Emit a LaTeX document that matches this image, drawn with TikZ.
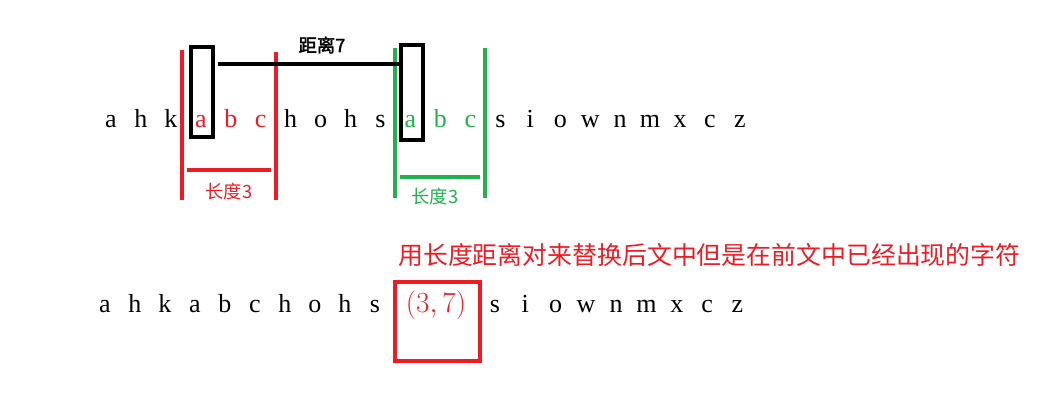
\documentclass[tikz,border=0pt]{standalone}
\usepackage{fontspec}
\newfontfamily\cjk[AutoFakeBold=2]{Noto Sans CJK SC}
\newfontfamily\lat{Liberation Serif}
\definecolor{myred}{RGB}{237,28,36}
\definecolor{mygreen}{RGB}{34,177,76}
\tikzset{
  letter/.style={anchor=base, inner sep=0pt, font=\lat\fontsize{18.5}{22}\selectfont},
  note/.style={inner sep=0pt, font=\cjk\fontsize{13}{15}\selectfont},
  bar/.style={line width=2.3pt}
}
\begin{document}
\begin{tikzpicture}[x=0.025cm, y=-0.025cm]
  \useasboundingbox (0,0) rectangle (1061,410);

  % top string
  \foreach \l/\c [count=\i from 0] in {a/black,h/black,k/black,a/myred,b/myred,c/myred,h/black,o/black,h/black,s/black,a/mygreen,b/mygreen,c/mygreen,s/black,i/black,o/black,w/black,n/black,m/black,x/black,c/black,z/black} {
    \node[letter, text=\c] (t\i) at ({111+29.95*\i},127) {\l};
  }

  % first match (red)
  \draw[bar, myred] (182,50) -- (182,200);
  \draw[bar, myred] (276,52) -- (276,200);
  \draw[bar, myred] (187,170) -- (271,170);
  \node[note, text=myred] (len1) at (229,192) {长度3};

  % second match (green)
  \draw[bar, mygreen] (395,48) -- (395,198);
  \draw[bar, mygreen] (485,48) -- (485,198);
  \draw[bar, mygreen] (400,177) -- (480,177);
  \node[note, text=mygreen] (len2) at (435,197) {长度3};

  % distance
  \draw[bar] (191,47) rectangle (213,137);
  \draw[bar] (401,45) rectangle (423,140);
  \coordinate (d1) at (218,64);
  \coordinate (d2) at (401,64);
  \draw[bar] (d1) -- (d2);
  \node[note, font=\cjk\bfseries\fontsize{13}{15}\selectfont] (dist) at (322,45) {距离7};

  % bottom string
  \foreach \l [count=\i from 0] in {a,h,k,a,b,c,h,o,h,s} {
    \node[letter] (b\i) at ({105+30*\i},312) {\l};
  }
  \foreach \l [count=\i from 0] in {s,i,o,w,n,m,x,c,z} {
    \node[letter] (e\i) at ({495+30.3*\i},312) {\l};
  }

  % replacement pair
  \draw[bar, myred] (395,282) rectangle (480,361);
  \node[inner sep=0pt, text=myred, font=\fontsize{22}{26}\selectfont] (pair) at (436,305) {$(3,7)$};
  \node[anchor=west, inner sep=0pt, text=myred, font=\cjk\fontsize{17.7}{21}\selectfont] (expl) at (398,255) {用长度距离对来替换后文中但是在前文中已经出现的字符};
\end{tikzpicture}
\end{document}
